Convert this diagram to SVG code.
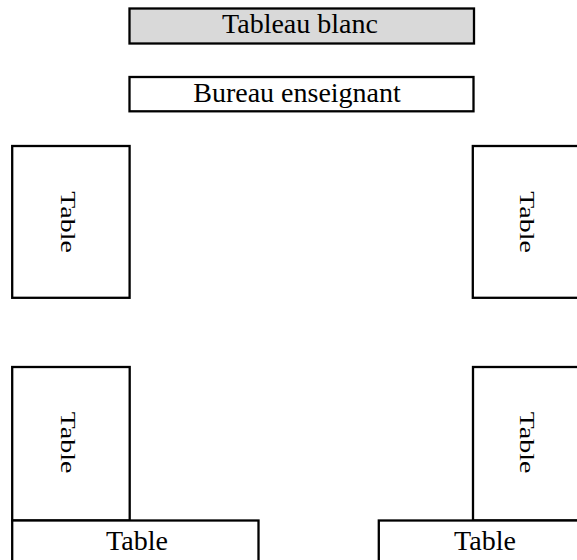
<svg xmlns="http://www.w3.org/2000/svg" width="577" height="560" viewBox="0 0 577 560">
<style>
.box{fill:#ffffff;stroke:#000000;stroke-width:2.3}
.board{fill:#d9d9d9;stroke:#000000;stroke-width:2.3}
.lbl{font-family:"Liberation Serif","Times New Roman",serif;font-size:28px;fill:#000000;text-anchor:middle}
</style>
<rect width="577" height="560" fill="#ffffff"/>
<g id="tableau-blanc">
<rect class="board" x="129.5" y="8.5" width="344.5" height="35"/>
<text class="lbl" x="300" y="33">Tableau blanc</text>
</g>
<g id="bureau-enseignant">
<rect class="box" x="129.5" y="77" width="344" height="34.3"/>
<text class="lbl" x="297" y="101.5">Bureau enseignant</text>
</g>
<g id="table-top-left">
<rect class="box" x="12.2" y="146" width="117.4" height="151.8"/>
<text class="lbl" transform="translate(61,222) rotate(90) scale(1,0.72)">Table</text>
</g>
<g id="table-top-right">
<rect class="box" x="472.8" y="146" width="130" height="151.8"/>
<text class="lbl" transform="translate(520,222) rotate(90) scale(1,0.72)">Table</text>
</g>
<g id="table-bottom-left-vertical">
<rect class="box" x="12.2" y="367" width="117.5" height="153.5"/>
<text class="lbl" transform="translate(60.5,442.5) rotate(90) scale(1,0.72)">Table</text>
</g>
<g id="table-bottom-right-vertical">
<rect class="box" x="473" y="367" width="130" height="153.5"/>
<text class="lbl" transform="translate(519.5,442.5) rotate(90) scale(1,0.72)">Table</text>
</g>
<g id="table-bottom-left-horizontal">
<rect class="box" x="12.2" y="520.5" width="246.3" height="60"/>
<text class="lbl" x="137" y="550">Table</text>
</g>
<g id="table-bottom-right-horizontal">
<rect class="box" x="378.8" y="520.5" width="246" height="60"/>
<text class="lbl" x="485" y="550">Table</text>
</g>
<g id="connectors"></g>
</svg>
